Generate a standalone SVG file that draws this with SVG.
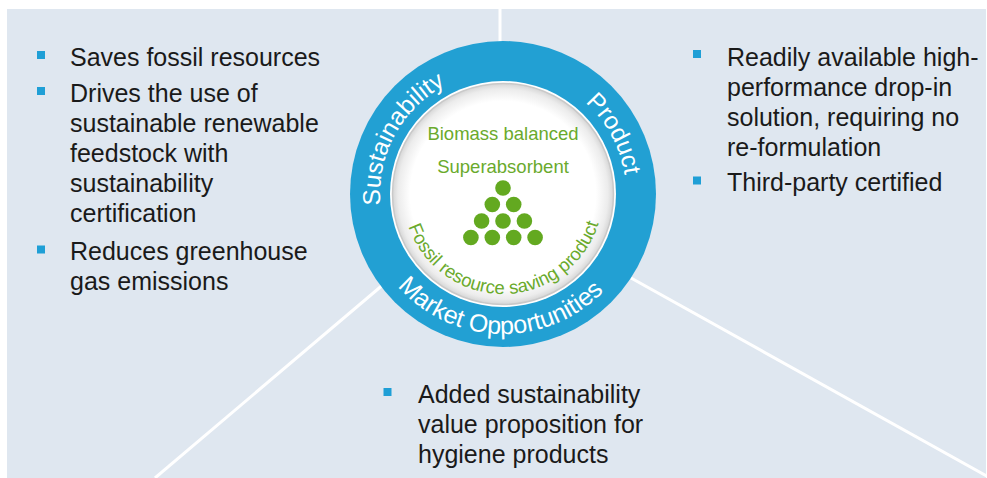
<svg xmlns="http://www.w3.org/2000/svg" width="987" height="478" viewBox="0 0 987 478">
<defs>
<style>
.body{font-family:"Liberation Sans",Arial,sans-serif;font-size:25px;fill:#1a1a1a}
.ring{font-family:"Liberation Sans",Arial,sans-serif;font-size:24.5px;fill:#ffffff}
.green{font-family:"Liberation Sans",Arial,sans-serif;font-size:18.5px;fill:#6aaa2c}
.bul{fill:#1f9fd6}
.conn{stroke:#ffffff;stroke-width:3;fill:none}
.dot{fill:#63a920}
</style>
<radialGradient id="innerShade" cx="0.5" cy="0.5" r="0.5">
<stop offset="0" stop-color="#ffffff"/>
<stop offset="0.84" stop-color="#ffffff"/>
<stop offset="0.95" stop-color="#ececec"/>
<stop offset="1" stop-color="#d6d6d6"/>
</radialGradient>
<path id="topArc" d="M387.42,236.07 A123,123 0 1 1 618.58,236.07"/>
<path id="bottomArc" d="M371.44,146.12 A140,140 0 1 0 634.56,146.12"/>
<path id="innerArc" d="M409.03,159.8 A100,100 0 1 0 596.97,159.8"/>
</defs>
<rect x="7" y="9" width="979" height="469" fill="#dfe7f0"/>
<g id="connectors">
<line class="conn" x1="500" y1="9" x2="500" y2="60"/>
<line class="conn" x1="400.4" y1="270" x2="155" y2="478"/>
<line class="conn" x1="600" y1="260.7" x2="987" y2="476.3"/>
</g>
<g id="center">
<circle cx="503" cy="194" r="153" fill="#22a0d3"/>
<circle cx="503" cy="194" r="113" fill="#ffffff"/>
<circle cx="503" cy="194" r="110.5" fill="url(#innerShade)" stroke="#c9c9c9" stroke-width="1.5"/>
<text class="ring"><textPath href="#topArc" startOffset="104" text-anchor="middle">Sustainability</textPath></text>
<text class="ring"><textPath href="#topArc" startOffset="368" text-anchor="middle">Product</textPath></text>
<text class="ring" style="font-size:25px"><textPath href="#bottomArc" startOffset="49.4%" text-anchor="middle">Market Opportunities</textPath></text>
<text class="green" x="503" y="140" text-anchor="middle">Biomass balanced</text>
<text class="green" x="503" y="172.5" text-anchor="middle">Superabsorbent</text>
<text class="green"><textPath href="#innerArc" startOffset="50.4%" text-anchor="middle">Fossil resource saving product</textPath></text>
<g id="dots">
<circle class="dot" cx="503" cy="188" r="7.8"/>
<circle class="dot" cx="492.3" cy="204.5" r="7.8"/>
<circle class="dot" cx="513.7" cy="204.5" r="7.8"/>
<circle class="dot" cx="481.6" cy="221" r="7.8"/>
<circle class="dot" cx="503" cy="221" r="7.8"/>
<circle class="dot" cx="524.4" cy="221" r="7.8"/>
<circle class="dot" cx="470.9" cy="237.5" r="7.8"/>
<circle class="dot" cx="492.3" cy="237.5" r="7.8"/>
<circle class="dot" cx="513.7" cy="237.5" r="7.8"/>
<circle class="dot" cx="535.1" cy="237.5" r="7.8"/>
</g>
</g>
<g id="sustainability-list">
<rect class="bul" x="37" y="51" width="8" height="8"/>
<rect class="bul" x="37" y="87" width="8" height="8"/>
<rect class="bul" x="37" y="245.5" width="8" height="8"/>
<text class="body" x="70" y="66">Saves fossil resources</text>
<text class="body" x="70" y="102">Drives the use of</text>
<text class="body" x="70" y="132">sustainable renewable</text>
<text class="body" x="70" y="162">feedstock with</text>
<text class="body" x="70" y="192">sustainability</text>
<text class="body" x="70" y="222">certification</text>
<text class="body" x="70" y="260">Reduces greenhouse</text>
<text class="body" x="70" y="290">gas emissions</text>
</g>
<g id="product-list">
<rect class="bul" x="693" y="50" width="8" height="8"/>
<rect class="bul" x="693" y="176.5" width="8" height="8"/>
<text class="body" x="727" y="65.5">Readily available high-</text>
<text class="body" x="727" y="96">performance drop-in</text>
<text class="body" x="727" y="126">solution, requiring no</text>
<text class="body" x="727" y="155.5">re-formulation</text>
<text class="body" x="727" y="191">Third-party certified</text>
</g>
<g id="market-list">
<rect class="bul" x="383.5" y="388" width="8" height="8"/>
<text class="body" x="418" y="403">Added sustainability</text>
<text class="body" x="418" y="433">value proposition for</text>
<text class="body" x="418" y="463">hygiene products</text>
</g>
</svg>
